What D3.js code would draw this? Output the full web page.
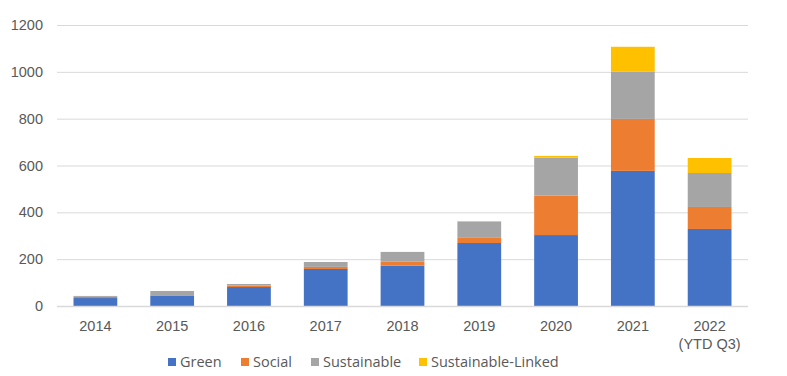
<!DOCTYPE html>
<html><head><meta charset="utf-8">
<script src="https://cdn.jsdelivr.net/npm/d3@7"></script>
<style>body{margin:0;background:#fff;}svg{display:block;font-family:"Open Sans","Noto Sans",sans-serif;}</style>
</head><body><svg id="c" width="787" height="376"></svg>
<script>
const categories = ["2014","2015","2016","2017","2018","2019","2020","2021","2022\n(YTD Q3)"];
const seriesNames = ["Green","Social","Sustainable","Sustainable-Linked"];
const green = [34,44,81,158,172,269,303,577,329];
const social = [5,3,6,9,17,22,168,222,94];
const sustainable = [4,17,7,21,42,69,163,201,145];
const sustainableLinked = [0,0,0,0,0,3,7,107,64];
const yTicks = [0,200,400,600,800,1000,1200];
const colors = ["#4472c4","#ed7d31","#a5a5a5","#ffc000"];

const svg = d3.select("#c");
const m = {left:57,right:748,top:25,bottom:306};
const x = d3.scaleBand().domain(categories).range([m.left,m.right]).paddingInner(0.43).paddingOuter(0.215);
const y = d3.scaleLinear().domain([0,1200]).range([m.bottom,m.top]);

// gridlines
svg.append("g").selectAll("line").data(yTicks).join("line")
  .attr("x1",m.left).attr("x2",m.right)
  .attr("y1",d=>y(d)+0.5).attr("y2",d=>y(d)+0.5)
  .attr("stroke","#d9d9d9").attr("stroke-width",1);

const table = categories.map((c,i)=>({cat:c,Green:green[i],Social:social[i],Sustainable:sustainable[i],"Sustainable-Linked":sustainableLinked[i]}));
const stacked = d3.stack().keys(seriesNames)(table);
svg.append("g").selectAll("g").data(stacked).join("g").attr("fill",(d,i)=>colors[i])
  .selectAll("rect").data(d=>d).join("rect")
  .attr("x",d=>x(d.data.cat)).attr("width",x.bandwidth())
  .attr("y",d=>y(d[1])).attr("height",d=>Math.max(0,y(d[0])-y(d[1])));

// baseline
svg.append("line").attr("x1",m.left).attr("x2",m.right).attr("y1",y(0)+0.5).attr("y2",y(0)+0.5)
  .attr("stroke","#d9d9d9").attr("stroke-width",1.5);

// y axis
const ya = d3.axisLeft(y).tickValues(yTicks).tickFormat(d3.format("d")).tickSize(0).tickPadding(14);
const gy = svg.append("g").attr("transform",`translate(${m.left},0)`).call(ya);
gy.select(".domain").remove();
gy.selectAll("text").attr("fill","#595959").attr("font-size","14.5px").attr("x",-14);

// x axis
const xa = d3.axisBottom(x).tickSize(0).tickFormat(()=>"");
const gx = svg.append("g").attr("transform",`translate(0,${m.bottom})`).call(xa);
gx.select(".domain").remove();
gx.selectAll(".tick").each(function(d){
  const t = d3.select(this).append("text").attr("fill","#595959").attr("font-size","14.5px").attr("text-anchor","middle");
  d.split("\n").forEach((s,i)=>t.append("tspan").attr("x",0).attr("y",25+i*18).text(s));
});

// legend
const legX = [168,241,311,419];
const lg = svg.append("g").selectAll("g").data(seriesNames).join("g")
  .attr("transform",(d,i)=>`translate(${legX[i]},358)`);
lg.append("rect").attr("width",8).attr("height",8).attr("y",0).attr("fill",(d,i)=>colors[i]);
lg.append("text").attr("x",12).attr("y",9).attr("font-size","14.5px").attr("fill","#595959").text(d=>d);
</script></body></html>
